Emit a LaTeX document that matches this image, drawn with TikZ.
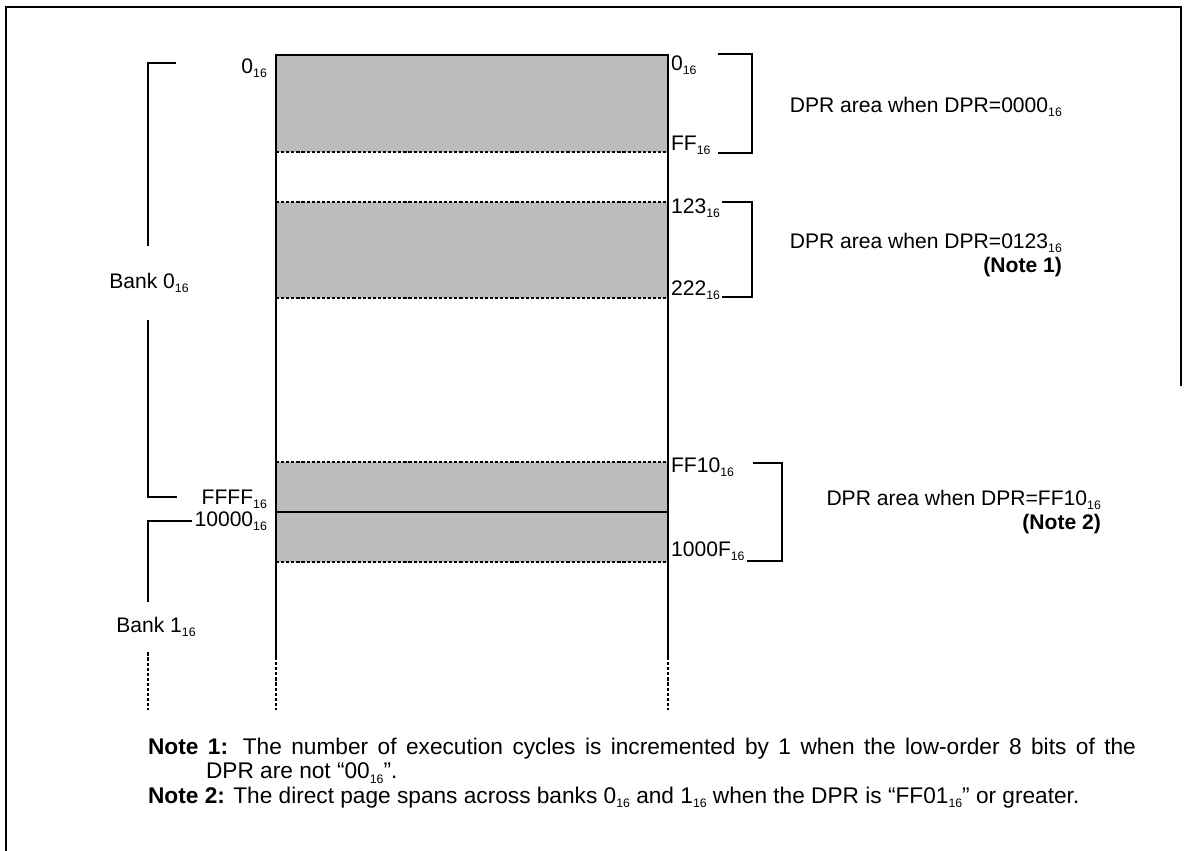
\documentclass[tikz,border=0pt]{standalone}
\usepackage{fontspec}
\setmainfont{Liberation Sans}
\usetikzlibrary{positioning}
\definecolor{dotgray}{RGB}{188,188,188}
\newcommand{\hexsub}[1]{#1\raisebox{-0.35ex}{\fontsize{7}{7}\selectfont 16}}

\begin{document}
\begin{tikzpicture}[x=0.02cm,y=-0.02cm,
  every node/.style={font=\fontsize{12}{13.6}\selectfont,inner sep=1pt},
  memline/.style={line width=1.3pt},
  dashedge/.style={line width=1.4pt,dash pattern=on 1.8pt off 1.1pt},
  brk/.style={line width=1.2pt},
  frame/.style={line width=0.8pt},
  dprfill/.style={fill=dotgray},
  dprtext/.style={align=right,anchor=east},
  banklbl/.style={inner sep=0pt},
  notetext/.style={text width=19.76cm,align=justify,font=\fontsize{12.9}{13.9}\selectfont}]
\useasboundingbox (0,0) rectangle (1186,851);
\draw[frame] (1181,386)--(1181,7)--(6,7)--(6,851);
% memory column
\fill[dprfill] (276,55) rectangle (668,152);
\fill[dprfill] (276,202) rectangle (668,298);
\fill[dprfill] (276,462) rectangle (668,562);
\draw[memline] (276,657)--(276,55)--(668,55)--(668,657);
\draw[memline] (276,512)--(668,512);
\foreach \y in {152,202,298,462,562}
{\draw[dashedge] (276,\y)--(668,\y);}
\foreach \x in {276,668}
{\draw[dashedge] (\x,657)--(\x,710);}
% addresses
\node[anchor=east] (lzero) at (269,68) {\hexsub{0}};
\node[anchor=east] (lffff) at (269,499) {\hexsub{FFFF}};
\node[anchor=east] (ltenk) at (269,521) {\hexsub{10000}};
\node[anchor=west] (rzero) at (669,65) {\hexsub{0}};
\node[anchor=west] (rff) at (669,145) {\hexsub{FF}};
\node[anchor=west] (rlow) at (669,208) {\hexsub{123}};
\node[anchor=west] (rhigh) at (669,290) {\hexsub{222}};
\node[anchor=west] (rff10) at (669,467) {\hexsub{FF10}};
\node[anchor=west] (rtop) at (669,551) {\hexsub{1000F}};
% brackets on the right
\draw[brk] (718,54)--(752,54)--(752,153)--(718,153);
\draw[brk] (rlow.east|-0,202)--(752,202)--(752,297)--(rhigh.east|-0,297);
\draw[brk] (753,463)--(782,463)--(782,561)--(rtop.east|-0,561);
\node[dprtext] (dprzero) at (1064,107) {DPR area when DPR=\hexsub{0000}};
\node[dprtext] (dprone) at (1064,255) {DPR area when DPR=\hexsub{0123}\\\textbf{(Note 1)}};
\node[dprtext] (dprtwo) at (1103,512) {DPR area when DPR=\hexsub{FF10}\\\textbf{(Note 2)}};
% banks on the left
\node[banklbl,minimum height=1.46cm] (bankzero) at (149,283) {Bank \hexsub{0}};
\node[banklbl,minimum height=1.0cm] (bankone) at (156,627) {Bank \hexsub{1}};
\draw[brk] (176,63) -| (bankzero.north-|148,0);
\draw[brk] (bankzero.south-|148,0) |- (177,497);
\draw[brk] (ltenk.west) -| (bankone.north-|148,0);
\draw[dashedge] (bankone.south-|148,0)--(148,710);
% notes
\node[notetext,anchor=north west] (notes) at (146,736) {%
\hangindent=1.16cm\hangafter=1\textbf{Note 1:} The number of execution cycles is incremented by 1 when the low-order 8 bits of the\linebreak DPR are not ``\hexsub{00}''.\par
\textbf{Note 2:} The direct page spans across banks \hexsub{0} and \hexsub{1} when the DPR is ``\hexsub{FF01}'' or greater.\par};
\end{tikzpicture}
\end{document}
